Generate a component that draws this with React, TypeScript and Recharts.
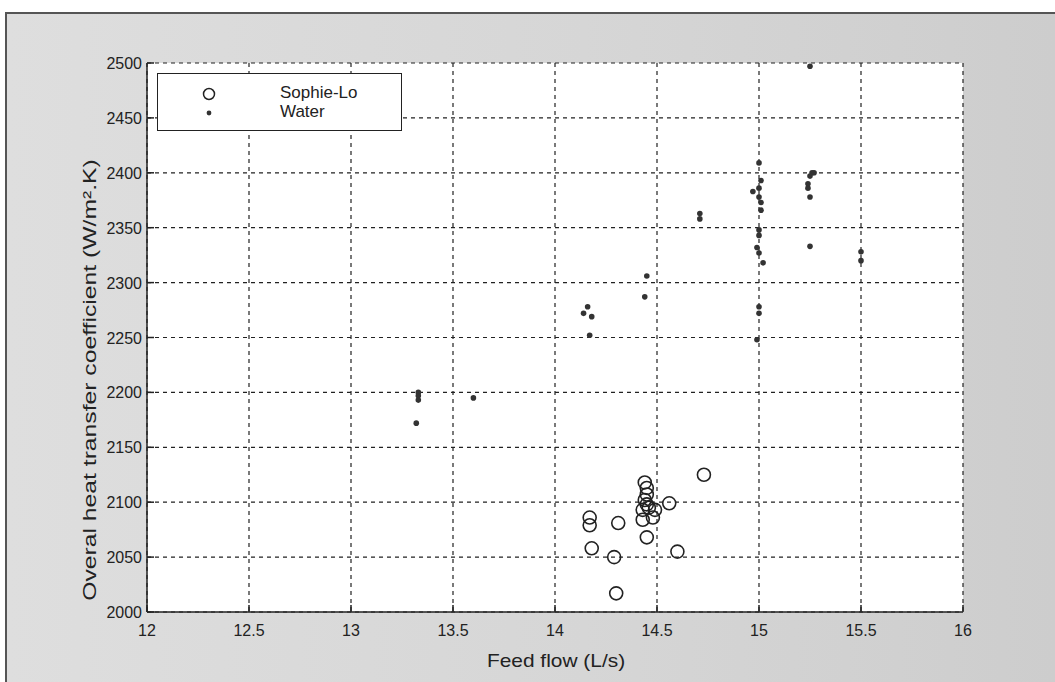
import React from 'react';
import { ScatterChart, Scatter, XAxis, YAxis, CartesianGrid } from 'recharts';

// feed flow (L/s), overall heat transfer coefficient (W/m2.K)
const sophieLoPoints: [number, number][] = [
  [14.17, 2086], [14.17, 2079], [14.18, 2058], [14.31, 2081], [14.29, 2050],
  [14.3, 2017], [14.44, 2118], [14.45, 2113], [14.45, 2107], [14.44, 2102],
  [14.45, 2098], [14.46, 2095], [14.43, 2093], [14.49, 2093], [14.43, 2084],
  [14.48, 2086], [14.45, 2068], [14.56, 2099], [14.6, 2055], [14.73, 2125],
];

const waterPoints: [number, number][] = [
  [13.33, 2200], [13.33, 2197], [13.33, 2193], [13.32, 2172], [13.6, 2195],
  [14.14, 2272], [14.16, 2278], [14.18, 2269], [14.17, 2252], [14.45, 2306], [14.44, 2287],
  [14.71, 2363], [14.71, 2358],
  [15.0, 2409], [15.01, 2393], [14.97, 2383], [15.0, 2386], [15.0, 2378], [15.01, 2373],
  [15.01, 2366], [15.0, 2348], [15.0, 2343], [14.99, 2332], [15.0, 2327], [15.02, 2318],
  [15.0, 2278], [15.0, 2272], [14.99, 2248],
  [15.25, 2497], [15.26, 2400], [15.25, 2397], [15.27, 2400], [15.24, 2390], [15.24, 2386],
  [15.25, 2378], [15.25, 2333],
  [15.5, 2328], [15.5, 2320],
];

const xTicks = [12, 12.5, 13, 13.5, 14, 14.5, 15, 15.5, 16];
const yTicks = [2000, 2050, 2100, 2150, 2200, 2250, 2300, 2350, 2400, 2450, 2500];

const sophieLo = sophieLoPoints.map(([flow, u]) => ({ flow, u }));
const water = waterPoints.map(([flow, u]) => ({ flow, u }));

const INK = '#222';
const FONT = '"Liberation Sans", Arial, sans-serif';

const BottomTick = (props: any) => {
  const { x, y, payload } = props;
  return (
    <g>
      <line x1={x} y1={y} x2={x} y2={y - 7} stroke={INK} strokeWidth={1.5} />
      <text x={x} y={y + 24} textAnchor="middle" fill={INK} fontSize={16} fontFamily={FONT}>
        {payload.value}
      </text>
    </g>
  );
};

const TopTick = (props: any) => {
  const { x, y } = props;
  return <line x1={x} y1={y} x2={x} y2={y + 7} stroke={INK} strokeWidth={1.5} />;
};

const LeftTick = (props: any) => {
  const { x, y, payload } = props;
  return (
    <g>
      <line x1={x} y1={y} x2={x + 7} y2={y} stroke={INK} strokeWidth={1.5} />
      <text x={x - 5} y={y + 6} textAnchor="end" fill={INK} fontSize={16} fontFamily={FONT}>
        {payload.value}
      </text>
    </g>
  );
};

const RightTick = (props: any) => {
  const { x, y } = props;
  return <line x1={x} y1={y} x2={x - 7} y2={y} stroke={INK} strokeWidth={1.5} />;
};

const OpenCircle = (props: any) => {
  const { cx, cy } = props;
  return <circle cx={cx} cy={cy} r={6.5} fill="none" stroke={INK} strokeWidth={1.6} />;
};

const SmallDot = (props: any) => {
  const { cx, cy } = props;
  return <circle cx={cx} cy={cy} r={2.8} fill="#333" />;
};

export default function App() {
  return (
    <div
      style={{
        position: 'absolute',
        left: 0,
        top: 0,
        width: 1055,
        height: 682,
        background: '#fff',
        overflow: 'hidden',
      }}
    >
      <div
        style={{
          position: 'absolute',
          left: 5,
          top: 12,
          right: 0,
          bottom: 0,
          background: 'linear-gradient(90deg, #dedede 0%, #d6d6d6 55%, #cdcdcd 100%)',
          borderTop: '2px solid #555',
          borderLeft: '2px solid #555',
        }}
      />
      <div style={{ position: 'absolute', left: 0, top: 0 }}>
        <ScatterChart width={1055} height={682} margin={{ top: 63, right: 92, bottom: 30, left: 87 }}>
          <CartesianGrid fill="#fff" stroke={INK} strokeDasharray="4 4" strokeWidth={1.2} />
          <XAxis
            type="number"
            dataKey="flow"
            domain={[12, 16]}
            ticks={xTicks}
            allowDataOverflow
            height={40}
            tickSize={0}
            tickMargin={0}
            tickLine={false}
            axisLine={{ stroke: INK, strokeWidth: 1.5 }}
            tick={<BottomTick />}
            interval={0}
          />
          <XAxis
            xAxisId="top"
            orientation="top"
            type="number"
            dataKey="flow"
            domain={[12, 16]}
            ticks={xTicks}
            height={0}
            tickSize={0}
            tickMargin={0}
            tickLine={false}
            axisLine={{ stroke: INK, strokeWidth: 1.5 }}
            tick={<TopTick />}
            interval={0}
          />
          <YAxis
            type="number"
            dataKey="u"
            domain={[2000, 2500]}
            ticks={yTicks}
            allowDataOverflow
            width={60}
            tickSize={0}
            tickMargin={0}
            tickLine={false}
            axisLine={{ stroke: INK, strokeWidth: 1.5 }}
            tick={<LeftTick />}
            interval={0}
          />
          <YAxis
            yAxisId="right"
            orientation="right"
            type="number"
            dataKey="u"
            domain={[2000, 2500]}
            ticks={yTicks}
            width={0}
            tickSize={0}
            tickMargin={0}
            tickLine={false}
            axisLine={{ stroke: INK, strokeWidth: 1.5 }}
            tick={<RightTick />}
            interval={0}
          />
          <Scatter name="Sophie-Lo" data={sophieLo} shape={<OpenCircle />} isAnimationActive={false} />
          <Scatter name="Water" data={water} shape={<SmallDot />} isAnimationActive={false} />
          <Scatter name="frame" data={[]} xAxisId="top" yAxisId="right" isAnimationActive={false} />
        </ScatterChart>
      </div>

      {/* legend box */}
      <div
        style={{
          position: 'absolute',
          left: 157,
          top: 73,
          width: 243,
          height: 56,
          border: `1.5px solid ${INK}`,
          background: '#fff',
          fontFamily: FONT,
          fontSize: 17,
          color: INK,
        }}
      >
        <svg width={30} height={40} style={{ position: 'absolute', left: 36, top: 8 }}>
          <circle cx={15} cy={12} r={5.5} fill="none" stroke={INK} strokeWidth={1.5} />
          <circle cx={15} cy={31} r={2.4} fill="#333" />
        </svg>
        <div style={{ position: 'absolute', left: 122, top: 9, lineHeight: '19px' }}>
          <div>Sophie-Lo</div>
          <div>Water</div>
        </div>
      </div>

      <div
        style={{
          position: 'absolute',
          left: 90,
          top: 380,
          transform: 'translate(-50%, -50%) rotate(-90deg) scaleX(1.3)',
          whiteSpace: 'nowrap',
          fontFamily: FONT,
          fontSize: 19,
          color: INK,
        }}
      >
        Overal heat transfer coefficient (W/m².K)
      </div>
      <div
        style={{
          position: 'absolute',
          left: 556,
          top: 661,
          transform: 'translate(-50%, -50%) scaleX(1.1)',
          whiteSpace: 'nowrap',
          fontFamily: FONT,
          fontSize: 19,
          color: INK,
        }}
      >
        Feed flow (L/s)
      </div>
    </div>
  );
}
